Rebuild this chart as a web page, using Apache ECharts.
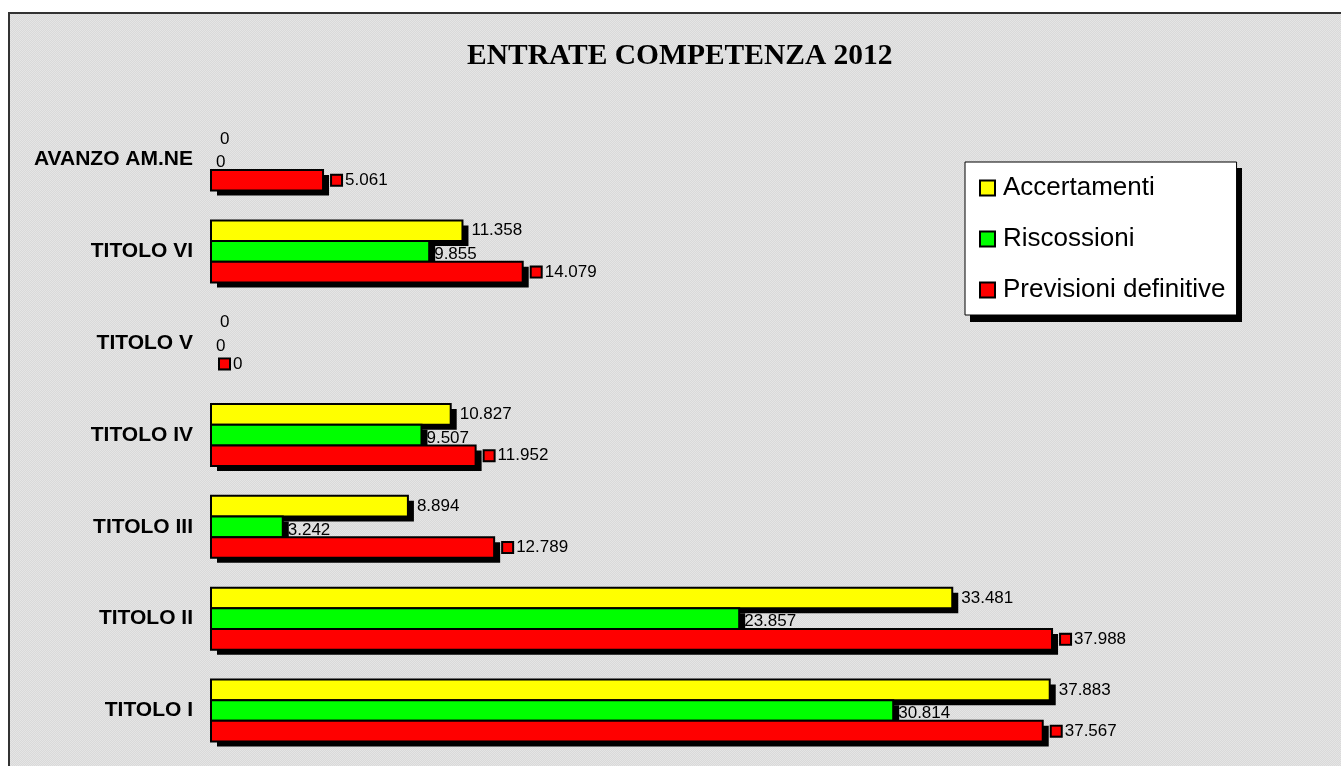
<!DOCTYPE html>
<html><head><meta charset="utf-8">
<script src="https://cdn.jsdelivr.net/npm/echarts@6/dist/echarts.min.js"></script>
<style>
html,body{margin:0;padding:0;background:#fff;overflow:hidden;width:1341px;height:766px}
#frame{position:absolute;left:8px;top:12px;width:1400px;height:800px;border-left:2px solid #333;border-top:2px solid #333;box-sizing:border-box;
background-color:#dedede;background-image:repeating-conic-gradient(#d9d9d9 0% 25%, #e5e5e5 0% 50%);background-size:2px 2px;}
#chart{position:absolute;left:0;top:0;width:1341px;height:766px}
</style></head>
<body><div id="frame"></div><div id="chart"></div>
<script>
const categories = ['TITOLO I','TITOLO II','TITOLO III','TITOLO IV','TITOLO V','TITOLO VI','AVANZO AM.NE'];
const accertamenti = [37.883, 33.481, 8.894, 10.827, 0, 11.358, 0];
const riscossioni = [30.814, 23.857, 3.242, 9.507, 0, 9.855, 0];
const previsioni = [37.567, 37.988, 12.789, 11.952, 0, 14.079, 5.061];
const seriesNames = ['Accertamenti','Riscossioni','Previsioni definitive'];
const colors = ['#ffff00','#00ff00','#ff0000'];

const SANS = "'Liberation Sans', Arial, sans-serif";
const fmt = v => v === 0 ? '0' : v.toFixed(3);
const BW = 20.67;

// label config per series: distance, vertical offset, with key square
const labelCfg = [
  {dist:9, dy:0, key:false},
  {dist:5, dy:3, key:false},
  {dist:9, dy:0, key:true}
];

function makeSeries(idx, values) {
  const color = colors[idx];
  const cfg = labelCfg[idx];
  return {
    type:'custom', name:seriesNames[idx],
    itemStyle:{color:color},
    encode:{x:0, y:1},
    data: values.map((v,i)=>[v,i]),
    renderItem:function(params, api){
      const v = api.value(0), ci = api.value(1);
      const p0 = api.coord([0, ci]);
      const p1 = api.coord([v, ci]);
      const yTop = p0[1] - 1.5*BW + idx*BW;
      const w = p1[0] - p0[0];
      const children = [];
      if (v > 0) {
        children.push({type:'rect', shape:{x:p0[0]+6, y:yTop+5, width:w, height:BW}, style:{fill:'#000'}});
        children.push({type:'rect', shape:{x:p0[0], y:yTop, width:w, height:BW}, style:{fill:color, stroke:'#000', lineWidth:2}});
      }
      const lx = p1[0] + cfg.dist;
      const ly = yTop + BW/2 + cfg.dy;
      if (cfg.key) {
        children.push({type:'text', z2:100, style:{
          text:'{sq|}{g|}{v|' + fmt(v) + '}', x:lx, y:ly, align:'left', verticalAlign:'middle',
          rich:{
            sq:{width:9, height:9, backgroundColor:'#ff0000', borderColor:'#000', borderWidth:2},
            g:{width:4},
            v:{fontSize:17, fontFamily:SANS, fill:'#000', color:'#000'}
          }}});
      } else {
        children.push({type:'text', z2:100, style:{
          text:fmt(v), x:lx, y:ly, align:'left', verticalAlign:'middle',
          fontSize:17, fontFamily:SANS, fill:'#000'}});
      }
      return {type:'group', children:children};
    }
  };
}

const chart = echarts.init(document.getElementById('chart'), null, {renderer:'canvas'});
chart.setOption({
  animation:false,
  backgroundColor:'transparent',
  title:{text:'ENTRATE COMPETENZA 2012', left:467, top:41, padding:0,
    textStyle:{fontFamily:"'Liberation Serif','Times New Roman',serif", fontWeight:'bold', fontSize:29.5, color:'#000'}},
  graphic:[
    {type:'rect', z:1, shape:{x:970, y:168, width:272, height:154}, style:{fill:'#000'}}
  ],
  legend:{
    z:10,
    orient:'vertical', left:965, top:162, padding:[13,11,12,14],
    itemWidth:15, itemHeight:15, itemGap:25, icon:'rect',
    backgroundColor:'#fff', borderColor:'#000', borderWidth:1,
    textStyle:{fontSize:26, fontFamily:SANS, color:'#000', lineHeight:26, padding:[0,0,0,3]},
    itemStyle:{borderColor:'#000', borderWidth:2},
    data:seriesNames
  },
  grid:{left:211, right:23, top:113.7, bottom:9.6},
  xAxis:{type:'value', min:0, max:50, show:false},
  yAxis:{type:'category', data:categories,
    axisLine:{show:false}, axisTick:{show:false}, splitLine:{show:false},
    axisLabel:{fontSize:21, fontWeight:'bold', fontFamily:SANS, color:'#000', margin:18}},
  series:[makeSeries(0, accertamenti), makeSeries(1, riscossioni), makeSeries(2, previsioni)]
});
</script>
</body></html>
